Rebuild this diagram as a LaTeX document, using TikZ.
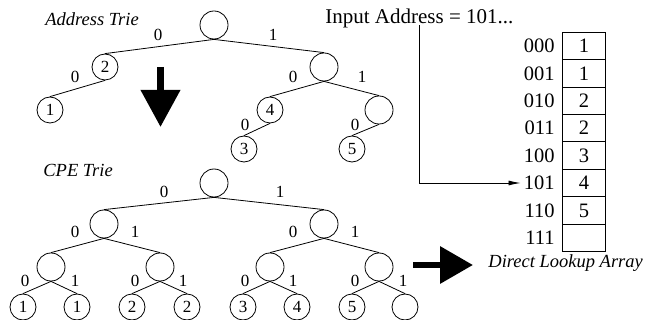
\documentclass[tikz,border=0pt]{standalone}
\usepackage{fontspec}
\setmainfont{Liberation Serif}
\usepackage{tikz}
\usetikzlibrary{arrows.meta}
\usetikzlibrary{positioning}

\begin{document}
\begin{tikzpicture}[x=1pt, y=-1pt, line width=0.8pt,
	trie/.style={circle, draw, minimum size=28pt, inner sep=0pt},
	pfx/.style={circle, draw, minimum size=26pt, inner sep=0pt, font=\fontsize{17}{20}\selectfont},
	lbl/.style={inner sep=0pt, font=\fontsize{17}{20}\selectfont},
	title/.style={anchor=base west, inner sep=0pt, font=\fontsize{18.5}{22}\selectfont\itshape},
	cell/.style={draw, minimum width=43pt, minimum height=27.4pt, inner sep=0pt, font=\fontsize{20.5}{24}\selectfont},
	bit/.style={inner sep=3pt, font=\fontsize{20.5}{24}\selectfont},
	blk/.style={line width=7pt, -{Triangle[length=37pt, width=38pt]}}]
	\useasboundingbox (0,0) rectangle (658,320);

	% Address trie
	\node[title] (tA) at (45,26) {Address Trie};
	\node[trie] (a) at (214,25) {};
	\node[pfx] (a0) at (105,67) {2};
	\node[trie] (a1) at (324,67) {};
	\node[pfx] (a00) at (50,110) {1};
	\node[pfx] (a10) at (270,110) {4};
	\node[trie] (a11) at (379,110) {};
	\node[pfx] (a100) at (244,149) {3};
	\node[pfx] (a110) at (352,149) {5};
	% Edges with bits
	\draw (a.south) -- (a0.north) node[lbl] (la0) at (158,35) {0};
	\draw (a.south) -- (a1.north) node[lbl] (la1) at (273,35) {1};
	\draw (a0.south) -- (a00.north) node[lbl] (la00) at (75,77) {0};
	\draw (a1.south) -- (a10.north) node[lbl] (la10) at (293,77) {0};
	\draw (a1.south) -- (a11.north) node[lbl] (la11) at (362,77) {1};
	\draw (a10.south) -- (a100.north) node[lbl] (la100) at (245,125) {0};
	\draw (a11.south) -- (a110.north) node[lbl] (la110) at (355,125) {0};

	% CPE trie
	\node[title] (tC) at (43,176.5) {CPE Trie};
	\node[trie] (c) at (214,183) {};
	\node[trie] (c0) at (104,224) {};
	\node[trie] (c1) at (324,224) {};
	\node[trie] (c00) at (51,267) {};
	\node[trie] (c01) at (160,267) {};
	\node[trie] (c10) at (270,267) {};
	\node[trie] (c11) at (379,267) {};
	\node[pfx] (c000) at (23,307) {1};
	\node[pfx] (c001) at (77,307) {1};
	\node[pfx] (c010) at (132,307) {2};
	\node[pfx] (c011) at (187,307) {2};
	\node[pfx] (c100) at (243,307) {3};
	\node[pfx] (c101) at (297,307) {4};
	\node[pfx] (c110) at (352,307) {5};
	\node[pfx] (c111) at (405,307) {};
	% Edges with bits
	\draw (c.south) -- (c0.north) node[lbl] (lc0) at (164,192) {0};
	\draw (c.south) -- (c1.north) node[lbl] (lc1) at (280,192) {1};
	\draw (c0.south) -- (c00.north) node[lbl] (lc00) at (75,232) {0};
	\draw (c0.south) -- (c01.north) node[lbl] (lc01) at (135,232) {1};
	\draw (c1.south) -- (c10.north) node[lbl] (lc10) at (293,232) {0};
	\draw (c1.south) -- (c11.north) node[lbl] (lc11) at (355,232) {1};
	\draw (c00.south) -- (c000.north) node[lbl] (lc000) at (25,281) {0};
	\draw (c00.south) -- (c001.north) node[lbl] (lc001) at (75,281) {1};
	\draw (c01.south) -- (c010.north) node[lbl] (lc010) at (135,281) {0};
	\draw (c01.south) -- (c011.north) node[lbl] (lc011) at (183,281) {1};
	\draw (c10.south) -- (c100.north) node[lbl] (lc100) at (245,281) {0};
	\draw (c10.south) -- (c101.north) node[lbl] (lc101) at (293,281) {1};
	\draw (c11.south) -- (c110.north) node[lbl] (lc110) at (355,281) {0};
	\draw (c11.south) -- (c111.north) node[lbl] (lc111) at (403,281) {1};

	% Block arrows
	\coordinate (dn1) at (160.5,67);
	\coordinate (dn2) at (160.5,127);
	\draw[blk] (dn1) -- (dn2);
	\coordinate (rt1) at (413,265);
	\coordinate (rt2) at (473,265);
	\draw[blk, line width=6.5pt, -{Triangle[length=33pt, width=36pt]}] (rt1) -- (rt2);

	% Direct lookup array
	\node[cell] (k0) at (584,46.0) {1};
	\node[cell] (k1) at (584,73.4) {1};
	\node[cell] (k2) at (584,100.8) {2};
	\node[cell] (k3) at (584,128.2) {2};
	\node[cell] (k4) at (584,155.6) {3};
	\node[cell] (k5) at (584,183.0) {4};
	\node[cell] (k6) at (584,210.4) {5};
	\node[cell] (k7) at (584,237.8) {};
	\node[bit, left=4pt of k0] (b0) {000};
	\node[bit, left=4pt of k1] (b1) {001};
	\node[bit, left=4pt of k2] (b2) {010};
	\node[bit, left=4pt of k3] (b3) {011};
	\node[bit, left=4pt of k4] (b4) {100};
	\node[bit, left=4pt of k5] (b5) {101};
	\node[bit, left=4pt of k6] (b6) {110};
	\node[bit, left=4pt of k7] (b7) {111};
	\node[title] (tD) at (488,268) {Direct Lookup Array};

	% Input address
	\node[anchor=base west, inner sep=0pt, font=\fontsize{21}{25}\selectfont] (inp) at (325,23.3) {Input Address = 101...};
	\draw[-{Latex[length=12pt, width=5pt]}] ([yshift=3pt]inp.south) |- (b5.west);
\end{tikzpicture}
\end{document}
